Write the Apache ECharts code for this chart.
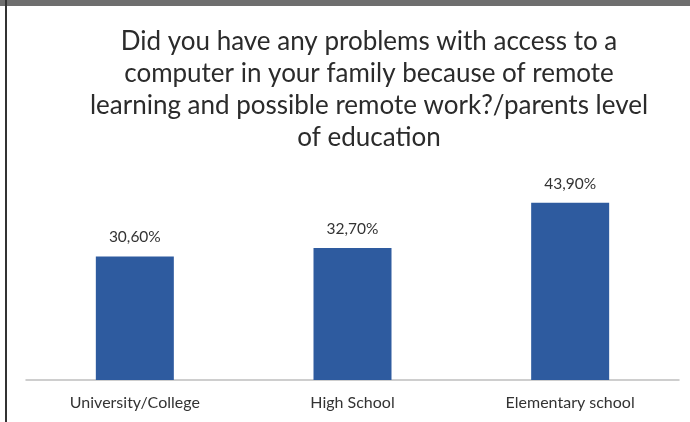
<!DOCTYPE html>
<html><head><meta charset="utf-8">
<script src="https://cdn.jsdelivr.net/npm/echarts@6/dist/echarts.min.js"></script>
<style>html,body{margin:0;padding:0;background:#fff}#c{width:690px;height:422px}</style>
</head><body><div id="c"></div>
<script>
const categories = ['University/College', 'High School', 'Elementary school'];
const values = [30.6, 32.7, 43.9];
const titleLines = ['Did you have any problems with access to a', 'computer in your family because of remote', 'learning and possible remote work?/parents level', 'of education'];

const chart = echarts.init(document.getElementById('c'), null, {renderer: 'canvas'});
chart.setOption({
  animation: false,
  backgroundColor: '#ffffff',
  title: {
    text: titleLines.join('\n'),
    left: 364, top: 20, textAlign: 'center',
    textStyle: {fontFamily: 'Lato', fontWeight: 'normal', fontSize: 26, lineHeight: 32.3, color: '#2b2b2b'}
  },
  graphic: [
    {type: 'rect', shape: {x: 0, y: 0, width: 690, height: 6}, style: {fill: '#6e6e6e'}},
    {type: 'rect', shape: {x: 5, y: 0, width: 2, height: 422}, style: {fill: '#333333'}}
  ],
  grid: {left: 26, right: 11, top: 178, bottom: 42},
  xAxis: {
    type: 'category', data: categories,
    axisLine: {lineStyle: {color: '#bfbfbf', width: 1.5}},
    axisTick: {show: false},
    axisLabel: {fontFamily: 'Lato', fontSize: 16, color: '#333333', margin: 15}
  },
  yAxis: {type: 'value', min: 0, max: 50, show: false, splitLine: {show: false}},
  series: [{
    type: 'bar', data: values, barWidth: 78,
    itemStyle: {color: '#2e5b9f'},
    label: {show: true, position: 'top', distance: 11, fontFamily: 'Lato', fontSize: 15.5, color: '#333333',
      formatter: p => p.value.toFixed(2).replace('.', ',') + '%'}
  }]
});
</script></body></html>
